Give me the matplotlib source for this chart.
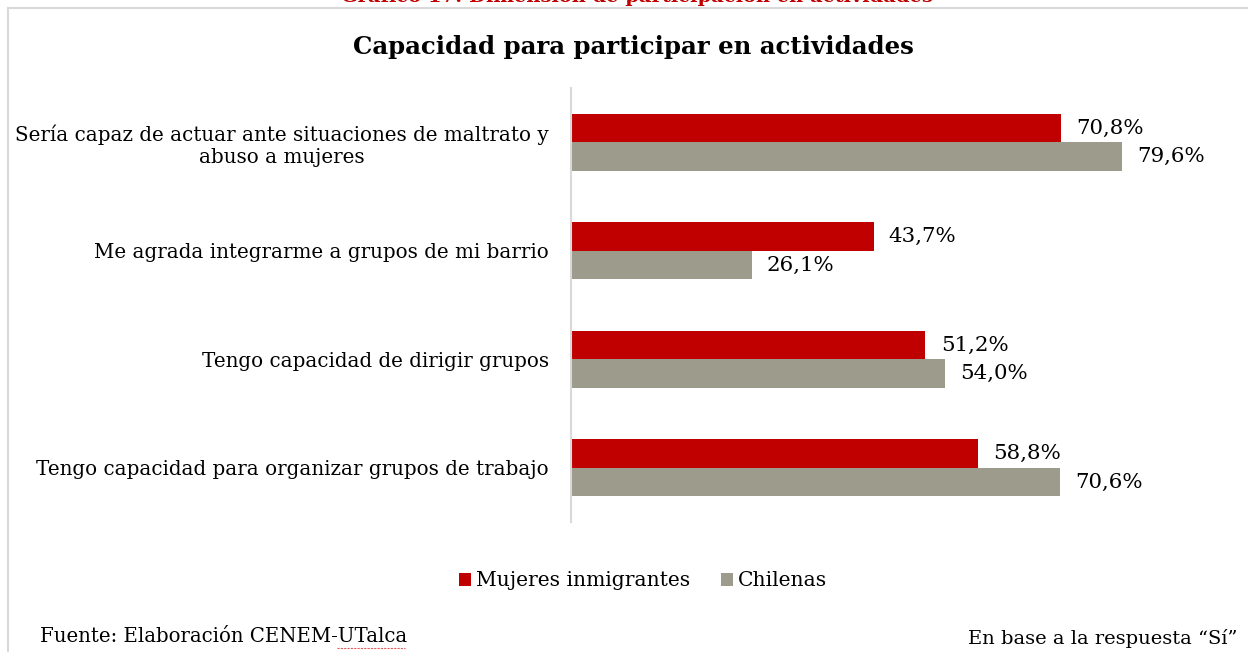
import matplotlib
matplotlib.use("Agg")
import matplotlib.pyplot as plt
from matplotlib.patches import Patch
from matplotlib.lines import Line2D
import numpy as np

categories = [
    "Sería capaz de actuar ante situaciones de maltrato y\nabuso a mujeres",
    "Me agrada integrarme a grupos de mi barrio",
    "Tengo capacidad de dirigir grupos",
    "Tengo capacidad para organizar grupos de trabajo",
]
series_names = ["Mujeres inmigrantes", "Chilenas"]
inmigrantes = [70.8, 43.7, 51.2, 58.8]
chilenas = [79.6, 26.1, 54.0, 70.6]

RED = "#C00000"
GRAY = "#9C9B8C"
FONT = "DejaVu Serif"

W, H = 1253, 652
plt.rcParams["font.family"] = [FONT]
fig = plt.figure(figsize=(W / 100, H / 100), dpi=100)

ax_left, ax_right = 571, 571 + 623
ax_top, ax_bot = 88, 522
ax = fig.add_axes([ax_left / W, 1 - ax_bot / H, (ax_right - ax_left) / W, (ax_bot - ax_top) / H])

y = np.arange(len(categories))
h = 0.263
b1 = ax.barh(y - h / 2, inmigrantes, height=h, color=RED, label=series_names[0])
b2 = ax.barh(y + h / 2, chilenas, height=h, color=GRAY, label=series_names[1])

def fmt(v):
    return f"{v:.1f}%".replace(".", ",")

for bars, vals in ((b1, inmigrantes), (b2, chilenas)):
    for rect, v in zip(bars, vals):
        ax.annotate(fmt(v), (rect.get_width(), rect.get_y() + rect.get_height() / 2),
                    xytext=(11, 0), textcoords="offset points", va="center", ha="left",
                    fontsize=15.4, color="#000000")

ax.set_xlim(0, 90)
ax.set_ylim(len(categories) - 0.5, -0.5)
ax.set_yticks(y)
ax.set_yticklabels(categories, fontsize=14.3, multialignment="center", linespacing=1.2)
ax.tick_params(axis="y", length=0, pad=16)
ax.set_xticks([])
for s in ("top", "right", "bottom"):
    ax.spines[s].set_visible(False)
ax.spines["left"].set_color("#D9D9D9")
ax.spines["left"].set_linewidth(1.5)

# Title
fig.text(633 / W, 1 - 47 / H, "Capacidad para participar en actividades", ha="center", va="center",
         fontsize=17.6, fontweight="bold")
# Cut-off red heading at top (as in the reference)
fig.text(637 / W, 1 - 2.5 / H, "Gráfico 17: Dimensión de participación en actividades", ha="center",
         va="baseline", fontsize=14, fontweight="bold", color=RED)

# Frame lines
fig.add_artist(Line2D([8 / W, 1247 / W], [1 - 8 / H, 1 - 8 / H], color="#D9D9D9", lw=1.5))
fig.add_artist(Line2D([8 / W, 8 / W], [1 - 8 / H, 0], color="#D9D9D9", lw=1.5))

# Legend
handles = [Patch(facecolor=RED, edgecolor="none"), Patch(facecolor=GRAY, edgecolor="none")]
fig.legend(handles, series_names, loc="center", bbox_to_anchor=(643 / W, 1 - 581 / H), ncol=2,
           frameon=False, fontsize=14.6, handlelength=0.6, handleheight=0.6, handletextpad=0.25,
           columnspacing=1.5)

# Footer
fig.text(40 / W, 1 - 637 / H, "Fuente: Elaboración CENEM-UTalca", ha="left", va="center", fontsize=14.2)
fig.text(1238 / W, 1 - 639 / H, "En base a la respuesta “Sí”", ha="right", va="center", fontsize=14)
fig.add_artist(Line2D([337 / W, 405 / W], [1 - 648 / H, 1 - 648 / H], color="#E06060", lw=0.8,
                      linestyle=(0, (2, 1))))

fig.savefig("out.png", dpi=100, facecolor="white")
